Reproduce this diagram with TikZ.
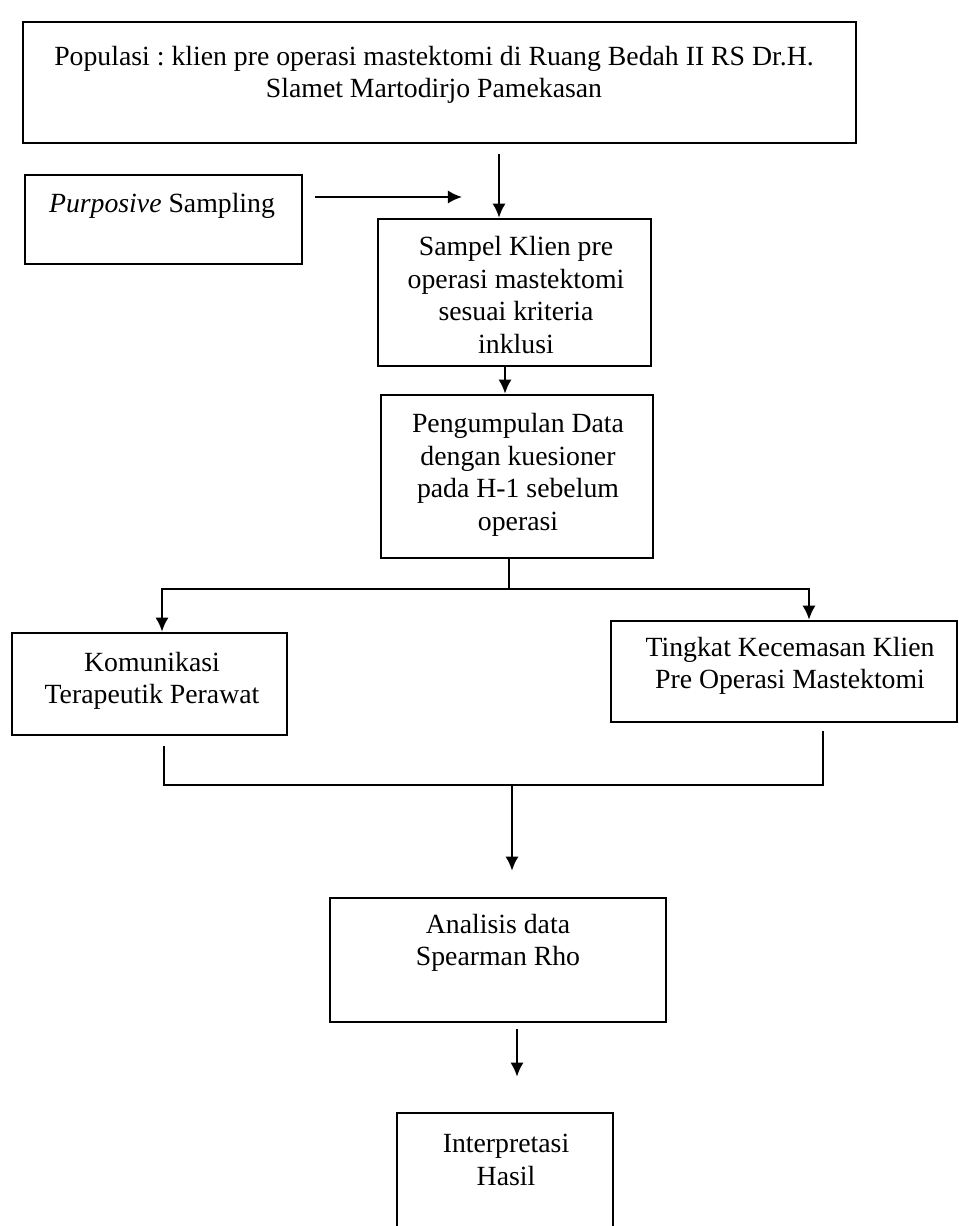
\documentclass[tikz,border=0pt]{standalone}
\usepackage{fontspec}
\setmainfont{Liberation Serif}
\usetikzlibrary{arrows.meta,fit,calc}
\frenchspacing
\begin{document}
\begin{tikzpicture}[x=0.02cm,y=-0.02cm,
  box/.style={draw, line width=1.5pt, inner sep=0pt, rectangle},
  txt/.style={align=center, inner sep=0pt, font=\fontsize{15.8}{18.5}\selectfont},
  conn/.style={line width=1.2pt},
  arr/.style={line width=1.2pt, -{Latex[length=8pt,width=7.5pt]}},
  arrtwo/.style={line width=1.2pt, {Latex[length=8pt,width=7.5pt]}-{Latex[length=8pt,width=7.5pt]}}]
\useasboundingbox (0,0) rectangle (958,1226);
\fill[white] (0,0) rectangle (958,1226);
\clip (0,0) rectangle (958,1226);
% boxes
\node[box, fit={(23,22)(856,143)}] (pop) {};
\node[box, fit={(25,175)(302,264)}] (purp) {};
\node[box, fit={(378,219)(651,366)}] (samp) {};
\node[box, fit={(381,395)(653,558)}] (peng) {};
\node[box, fit={(12,633)(287,735)}] (kom) {};
\node[box, fit={(611,621)(957,722)}] (ting) {};
\node[box, fit={(330,898)(666,1022)}] (anal) {};
\node[box, fit={(397,1113)(613,1240)}] (interp) {};
% texts
\node[txt] (popt) at (434,75) {Populasi : klien pre operasi mastektomi di Ruang Bedah II RS Dr.H.\\Slamet Martodirjo Pamekasan};
\node[txt] (purpt) at (162,206) {\textit{Purposive} Sampling};
\node[txt] (sampt) at (516,295) {Sampel Klien pre\\operasi mastektomi\\sesuai kriteria\\inklusi};
\node[txt] (pengt) at (518,475) {Pengumpulan Data\\dengan kuesioner\\pada H-1 sebelum\\operasi};
\node[txt] (komt) at (152,681) {Komunikasi\\Terapeutik Perawat};
\node[txt] (tingt) at (790,666) {Tingkat Kecemasan Klien\\Pre Operasi Mastektomi};
\node[txt] (analt) at (498,943) {Analisis data\\Spearman Rho};
\node[txt] (interpt) at (506,1160) {Interpretasi\\Hasil};
% helper coordinates
\coordinate (pa) at (315,197);
\coordinate (pb) at (462,197);
\coordinate (xa) at (499,0);
\coordinate (xb) at (505,0);
\coordinate (j1) at (509,589);
\coordinate (jl) at (162,589);
\coordinate (jr) at (809,589);
\coordinate (kl) at (164,785);
\coordinate (kr) at (823,785);
\coordinate (km) at (512,785);
\coordinate (xi) at (517,0);
% connectors
\draw[arr] (pa) -- (pb);
\draw[arr] ($(pop.south -| xa)+(0,10)$) -- (samp.north -| xa);
\draw[arr] (samp.south -| xb) -- (peng.north -| xb);
\draw[conn] (peng.south -| j1) -- (j1);
\draw[arrtwo] (kom.north -| jl) -- (jl) -- (jr) -- (ting.north -| jr);
\draw[conn] ($(kom.south -| kl)+(0,10)$) -- (kl) -- (kr) -- ($(ting.south -| kr)+(0,8)$);
\draw[arr] (km) -- ($(anal.north -| km)+(0,-26)$);
\draw[arr] ($(anal.south -| xi)+(0,6)$) -- ($(interp.north -| xi)+(0,-35)$);
\end{tikzpicture}
\end{document}
